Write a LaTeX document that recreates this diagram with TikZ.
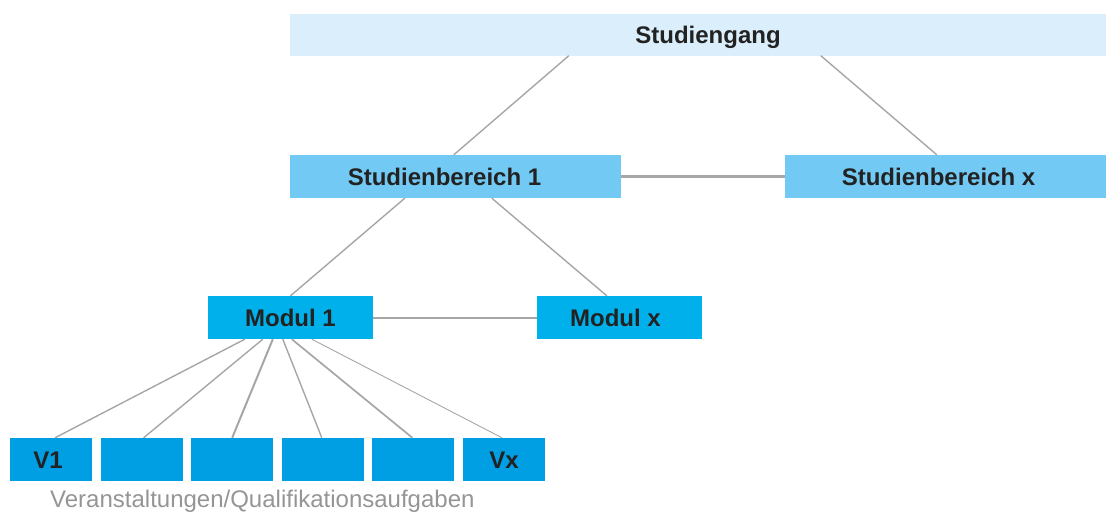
\documentclass[tikz,border=0pt]{standalone}
\usepackage{fontspec}
\setmainfont{Liberation Sans}
\usepackage{tikz}
\usetikzlibrary{positioning}

\definecolor{gangblue}{HTML}{DBEEFB}
\definecolor{bereichblue}{HTML}{72CAF4}
\definecolor{modulblue}{HTML}{00B0EB}
\definecolor{veranstblue}{HTML}{009EE2}
\definecolor{linkgray}{HTML}{A6A6A6}
\definecolor{textdark}{HTML}{222222}

\begin{document}
	\begin{tikzpicture}[x=1pt, y=-1pt,
			box/.style={inner sep=0pt, text height=17.3pt, text depth=0pt,
				minimum height=42pt, text=textdark,
				font=\fontsize{24}{29}\selectfont\bfseries},
			link/.style={draw=linkgray, line width=1.4pt},
		]
		\useasboundingbox (0,0) rectangle (1106,514);
		% Knoten
		\node [box, fill=gangblue, minimum width=816pt] (sg) at (698,34.5) {\hspace*{20pt}Studiengang};
		\node [box, fill=bereichblue, minimum width=331pt, minimum height=43pt] (sb1) at (455.5,176.5) {Studienbereich 1\hspace*{22pt}};
		\node [box, fill=bereichblue, minimum width=321pt, minimum height=43pt] (sbx) at (945.5,176.5) {Studienbereich x\hspace*{14pt}};
		\node [box, fill=modulblue, minimum width=165pt, minimum height=43pt] (m1) at (290.5,317.5) {Modul 1};
		\node [box, fill=modulblue, minimum width=165pt, minimum height=43pt] (mx) at (619.5,317.5) {Modul x\hspace*{8pt}};
		\node [box, fill=veranstblue, minimum width=82pt, minimum height=43pt] (v1) at (51,459.5) {V1\hspace*{6pt}};
		\node [box, fill=veranstblue, minimum width=82pt, minimum height=43pt, right=8.2pt of v1] (v2) {};
		\node [box, fill=veranstblue, minimum width=82pt, minimum height=43pt, right=8.2pt of v2] (v3) {};
		\node [box, fill=veranstblue, minimum width=82pt, minimum height=43pt, right=8.2pt of v3] (v4) {};
		\node [box, fill=veranstblue, minimum width=82pt, minimum height=43pt, right=8.2pt of v4] (v5) {};
		\node [box, fill=veranstblue, minimum width=82pt, minimum height=43pt, right=8.2pt of v5] (v6) {Vx};
		\node [inner sep=0pt, anchor=base west, text=linkgray!90!black,
			font=\fontsize{24}{29}\selectfont] (lbl) at (50,507) {Veranstaltungen/Qualifikationsaufgaben};
		% Verbindungen
		\draw [link] ([xshift=279pt]sg.south west) -- ([xshift=164pt]sb1.north west);
		\draw [link] ([xshift=531pt]sg.south west) -- ([xshift=152pt]sbx.north west);
		\draw [link, line width=3pt] (sb1.east) -- (sbx.west);
		\draw [link] ([xshift=115pt]sb1.south west) -- (m1.north);
		\draw [link] ([xshift=202pt]sb1.south west) -- ([xshift=70pt]mx.north west);
		\draw [link, line width=2pt] (m1.east) -- (mx.west);
		\draw [link] ([xshift=37pt]m1.south west) -- ([xshift=4pt]v1.north);
		\draw [link] ([xshift=55pt]m1.south west) -- ([xshift=2pt]v2.north);
		\draw [link, line width=2pt] ([xshift=65pt]m1.south west) -- (v3.north);
		\draw [link] ([xshift=75pt]m1.south west) -- ([xshift=-1pt]v4.north);
		\draw [link, line width=1.7pt] ([xshift=84pt]m1.south west) -- ([xshift=-1pt]v5.north);
		\draw [link, line width=0.9pt] ([xshift=104pt]m1.south west) -- ([xshift=-2pt]v6.north);
	\end{tikzpicture}
\end{document}
